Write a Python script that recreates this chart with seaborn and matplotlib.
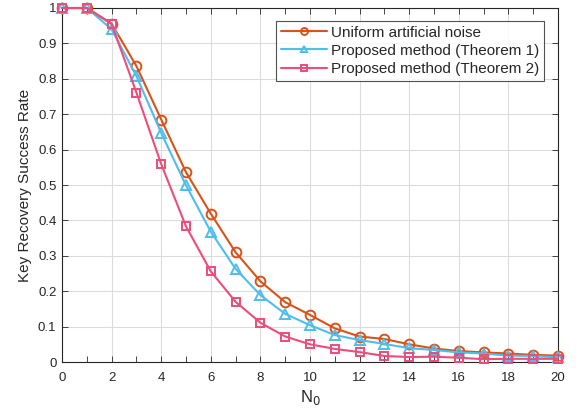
import numpy as np
import pandas as pd
import matplotlib
matplotlib.use("Agg")
import matplotlib.pyplot as plt
import seaborn as sns
from matplotlib.ticker import MultipleLocator

n0 = list(range(0, 21))
uniform_noise = [1.0, 1.0, 0.956, 0.836, 0.685, 0.536, 0.419, 0.310, 0.228, 0.169, 0.133,
                 0.095, 0.072, 0.065, 0.050, 0.038, 0.031, 0.027, 0.024, 0.020, 0.018]
theorem1 = [1.0, 1.0, 0.940, 0.808, 0.647, 0.499, 0.368, 0.263, 0.189, 0.136, 0.104,
            0.076, 0.062, 0.051, 0.039, 0.034, 0.027, 0.024, 0.018, 0.017, 0.013]
theorem2 = [1.0, 1.0, 0.955, 0.761, 0.559, 0.383, 0.256, 0.170, 0.111, 0.072, 0.050,
            0.037, 0.028, 0.017, 0.014, 0.015, 0.012, 0.008, 0.009, 0.009, 0.009]
series_names = ["Uniform artificial noise", "Proposed method (Theorem 1)", "Proposed method (Theorem 2)"]
y_ticks = [0, 0.1, 0.2, 0.3, 0.4, 0.5, 0.6, 0.7, 0.8, 0.9, 1]
y_tick_labels = ["0", "0.1", "0.2", "0.3", "0.4", "0.5", "0.6", "0.7", "0.8", "0.9", "1"]

df = pd.DataFrame({
    "N0": n0 * 3,
    "rate": uniform_noise + theorem1 + theorem2,
    "method": [series_names[0]] * 21 + [series_names[1]] * 21 + [series_names[2]] * 21,
})

sns.set_theme(style="white")
plt.rcParams["font.family"] = ["Liberation Sans", "DejaVu Sans"]

fig = plt.figure(figsize=(5.79, 4.15), dpi=100)
ax = fig.add_axes([62 / 579, 1 - 362 / 415, (558 - 62) / 579, (362 - 8) / 415])

palette = {series_names[0]: "#D95319", series_names[1]: "#4DBEEE", series_names[2]: "#EC4D7A"}
markers = {series_names[0]: "o", series_names[1]: "^", series_names[2]: "s"}
sizes = {series_names[0]: 7, series_names[1]: 7, series_names[2]: 5.5}

for name in series_names:
    sub = df[df["method"] == name]
    sns.lineplot(data=sub, x="N0", y="rate", ax=ax, color=palette[name], marker=markers[name],
                 markersize=sizes[name], markerfacecolor="none", markeredgecolor=palette[name],
                 markeredgewidth=1.4, linewidth=1.5, label=name, legend=False, clip_on=False,
                 zorder=3)

ax.set_xlim(0, 20)
ax.set_ylim(0, 1)
ax.xaxis.set_major_locator(MultipleLocator(2))
ax.xaxis.set_minor_locator(MultipleLocator(1))
ax.set_yticks(y_ticks)
ax.set_yticklabels(y_tick_labels)
ax.grid(True, which="major", color="#DCDCDC", linewidth=0.8)
ax.set_axisbelow(True)
for s in ax.spines.values():
    s.set_visible(True)
    s.set_color("#262626")
    s.set_linewidth(0.8)
ax.tick_params(which="both", direction="in", top=True, right=True, bottom=True, left=True,
               colors="#262626", labelsize=9.5)
ax.tick_params(axis="x", which="both", pad=7)
ax.tick_params(axis="y", which="both", pad=4)
ax.tick_params(which="major", length=4, width=0.6)
ax.tick_params(which="minor", length=4, width=0.6)

ax.set_xlabel("N$_0$", fontsize=12, color="#262626", labelpad=3)
ax.set_ylabel("Key Recovery Success Rate", fontsize=11, color="#262626", labelpad=4)

leg = ax.legend(loc="upper right", bbox_to_anchor=(0.977, 0.972), fontsize=11, frameon=True,
                fancybox=False, edgecolor="#262626", handlelength=3.0, handletextpad=0.25,
                borderpad=0.3, labelspacing=0.28, borderaxespad=0.2)
leg.get_frame().set_linewidth(0.8)
for h in leg.legend_handles:
    h.set_markersize(5)

fig.savefig("out.png", dpi=100, facecolor="white")
